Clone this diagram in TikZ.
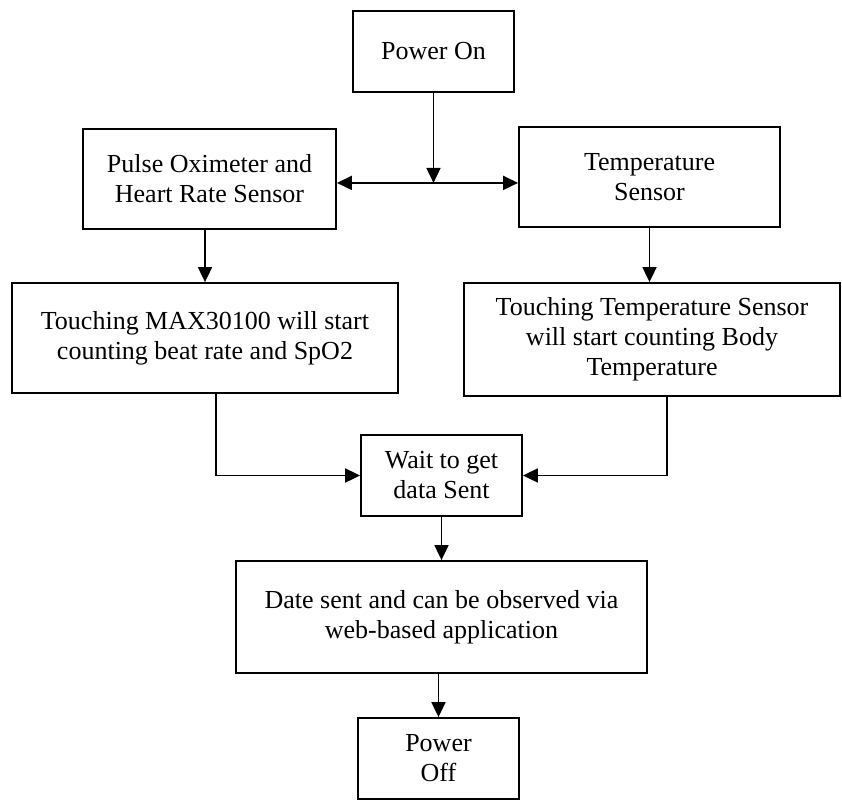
\documentclass[tikz,border=0pt]{standalone}
\usepackage{fontspec}
\setmainfont{Liberation Serif}
\usetikzlibrary{arrows.meta,calc}

\begin{document}
\begin{tikzpicture}[
  x=0.5pt, y=-0.5pt,
  font=\fontsize{13pt}{15pt}\selectfont,
  >={Triangle[length=7.5pt, width=7pt]},
  box/.style={draw=black, line width=0.9pt, inner sep=0pt, align=center, text=black},
  flow/.style={->, draw=black, line width=0.9pt}
]
\useasboundingbox (0,0) rectangle (842,800);

% power on and the two sensors
\node[box, minimum width=80.5pt, minimum height=40.5pt] (on) at (433.5,51.5) {Power On};
\node[box, minimum width=126.5pt, minimum height=50pt] (pulse) at (209.5,179) {Pulse Oximeter and\\Heart Rate Sensor};
\node[box, minimum width=130.5pt, minimum height=50pt] (temp) at (649.5,177) {Temperature\\Sensor};
\coordinate (split) at ($(on.south)+(0,90)$);
\draw[flow] (on.south) -- (split);
\draw[flow] (split) -- (split -| pulse.east);
\draw[flow] (split) -- (split -| temp.west);

% measuring
\node[box, minimum width=193pt, minimum height=55pt] (max) at (205,338) {Touching MAX30100 will start\\counting beat rate and SpO2};
\node[box, minimum width=188pt, minimum height=56.5pt] (tbody) at (652,339.5) {Touching Temperature Sensor\\will start counting Body\\Temperature};
\draw[flow] (max.north |- pulse.south) -- (max.north);
\draw[flow] (temp.south) -- (temp.south |- tbody.north);

% sending
\node[box, minimum width=80.5pt, minimum height=40.5pt] (wait) at (441.5,475.5) {Wait to get\\data Sent};
\draw[flow] ([xshift=5.5pt]max.south) |- (wait.west);
\draw[flow] ([xshift=7.5pt]tbody.south) |- (wait.east);
\node[box, minimum width=205.5pt, minimum height=56pt] (date) at (441.5,617) {Date sent and can be observed via\\web-based application};
\draw[flow] (wait.south) -- (wait.south |- date.north);
\node[box, minimum width=80.5pt, minimum height=40.5pt] (off) at (438.5,758.5) {Power\\Off};
\draw[flow] (off.north |- date.south) -- (off.north);

\end{tikzpicture}
\end{document}
